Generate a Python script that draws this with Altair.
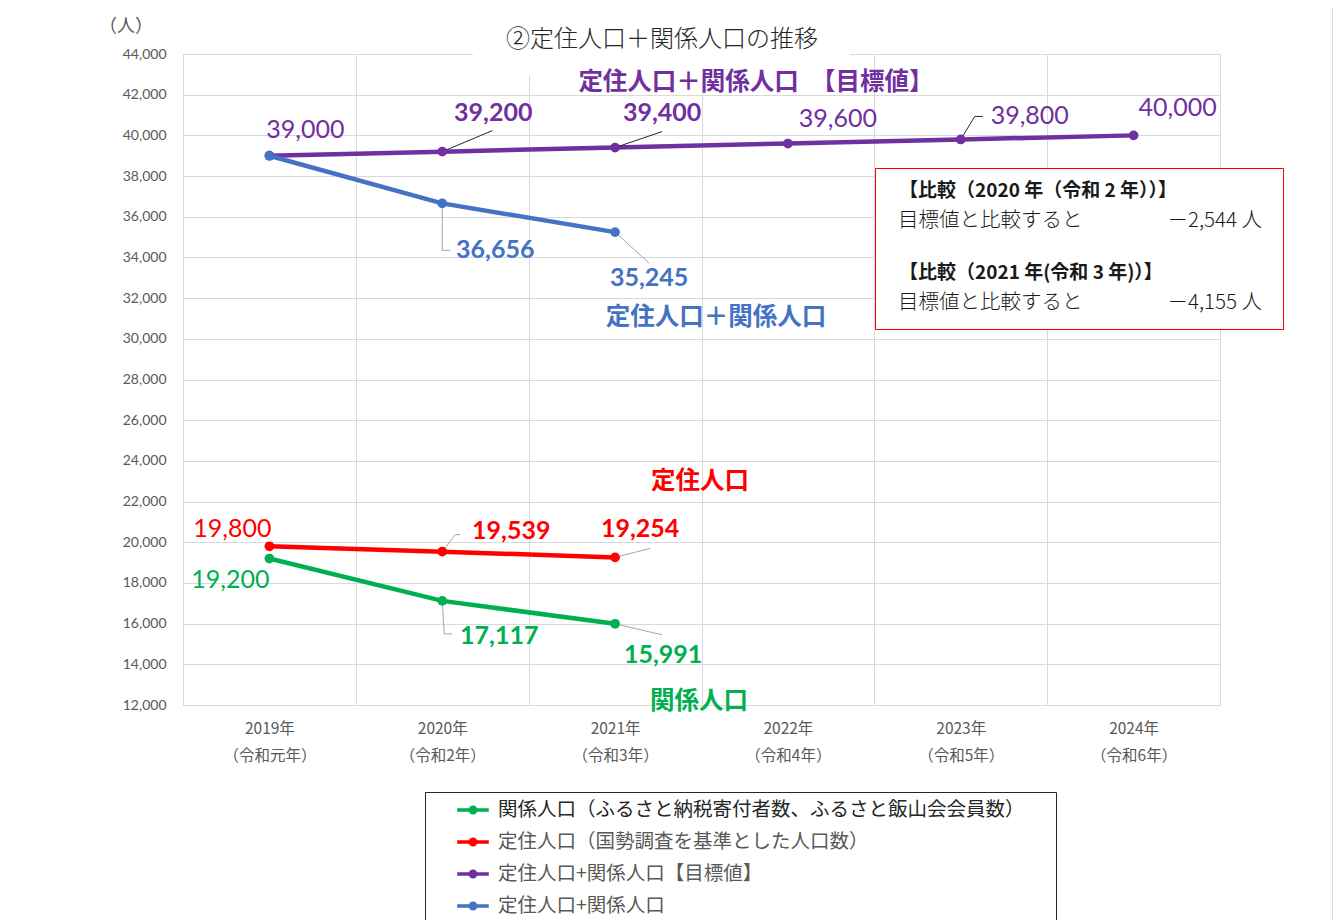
import altair as alt
import pandas as pd

# ---------------- data ----------------
years = ["2019年", "2020年", "2021年", "2022年", "2023年", "2024年"]
eras = ["（令和元年）", "（令和2年）", "（令和3年）", "（令和4年）", "（令和5年）", "（令和6年）"]

kankei = [19200, 17117, 15991]          # 関係人口
teiju = [19800, 19539, 19254]           # 定住人口
target = [39000, 39200, 39400, 39600, 39800, 40000]  # 目標値
total = [39000, 36656, 35245]           # 定住人口+関係人口

series_names = {
    "kankei": "関係人口（ふるさと納税寄付者数、ふるさと飯山会会員数）",
    "teiju": "定住人口（国勢調査を基準とした人口数）",
    "target": "定住人口+関係人口【目標値】",
    "total": "定住人口+関係人口",
}
series_values = {"kankei": kankei, "teiju": teiju, "target": target, "total": total}
series_colors = {"kankei": "#00B050", "teiju": "#FF0000", "target": "#7030A0", "total": "#4472C4"}
order = ["kankei", "teiju", "target", "total"]

cats = [f"{y}|{e}" for y, e in zip(years, eras)]
rows = []
for k in order:
    for i, v in enumerate(series_values[k]):
        rows.append({"key": k, "name": series_names[k], "cat": cats[i], "idx": i,
                     "value": v, "text": f"{v:,}"})
df = pd.DataFrame(rows)

# ---------------- styles ----------------
GRID = "#D9D9D9"
AX = "#595959"
JP = "Noto Sans CJK JP"
NUM = "Lato"

# label offsets (pixels from point): key, index, dx, dy, bold
LABELS = [
    ("target", 0, 36, -26, False), ("target", 1, 51, -39, True), ("target", 2, 47, -35, True),
    ("target", 3, 50, -25, False), ("target", 4, 69, -23, False), ("target", 5, 44, -27, False),
    ("total", 1, 53, 47, True), ("total", 2, 34, 46, True),
    ("teiju", 0, -37, -17, False), ("teiju", 1, 69, -21, True), ("teiju", 2, 25, -28, True),
    ("kankei", 0, -39, 21, False), ("kankei", 1, 57, 35, True), ("kankei", 2, 48, 31, True),
]
LEADERS = [
    ("target", 1, [(0, 0, 50, -21)], "#262626"),
    ("target", 2, [(0, 0, 47, -16)], "#262626"),
    ("target", 4, [(0, 0, 14, -23), (14, -23, 22, -23)], "#262626"),
    ("total", 1, [(0, 0, 0, 47), (0, 47, 8, 47)], "#A6A6A6"),
    ("total", 2, [(0, 0, 34, 31)], "#A6A6A6"),
    ("teiju", 1, [(0, 0, 13, -17), (13, -17, 18, -17)], "#A6A6A6"),
    ("teiju", 2, [(0, 0, 35, -9)], "#A6A6A6"),
    ("kankei", 1, [(0, 0, 2, 33), (2, 33, 10, 33)], "#A6A6A6"),
    ("kankei", 2, [(0, 0, 47, 11)], "#A6A6A6"),
]

x_enc = alt.X(
    "cat:N", sort=cats,
    scale=alt.Scale(type="band", paddingInner=0, paddingOuter=0),
    axis=alt.Axis(title=None, labelExpr="split(datum.label, '|')", tickBand="extent",
                  grid=True, gridColor=GRID, domain=False, ticks=False, labelAngle=0,
                  labelColor=AX, labelFont=JP, labelFontSize=15.5, labelLineHeight=27,
                  labelPadding=16),
)
y_enc = alt.Y(
    "value:Q",
    scale=alt.Scale(domain=[12000, 44000], nice=False, zero=False),
    axis=alt.Axis(title=None, values=list(range(12000, 44001, 2000)), format=",.0f",
                  grid=True, gridColor=GRID, domain=False, ticks=False,
                  labelColor=AX, labelFont=NUM, labelFontSize=14, labelPadding=17),
)

sym_path = ("M-1,0L1,0"
            "M-0.17,0A0.17,0.17,0,1,0,0.17,0A0.17,0.17,0,1,0,-0.17,0"
            "M-0.07,0A0.07,0.07,0,1,0,0.07,0A0.07,0.07,0,1,0,-0.07,0")
LEG = alt.Legend(title=None, orient="none", legendX=272, legendY=738, direction="vertical",
                 symbolType=sym_path, symbolSize=1000, symbolStrokeWidth=3.5,
                 labelFont=JP, labelFontSize=19.5,
                 labelColor={"expr": "datum.index === 0 ? '#262626' : '#595959'"},
                 labelLimit=900, labelOffset=7, rowPadding=4, padding=0)
color_enc = alt.Color("name:N",
                      scale=alt.Scale(domain=[series_names[k] for k in order],
                                      range=[series_colors[k] for k in order]),
                      legend=LEG)

base = alt.Chart(df)
one = alt.Chart(pd.DataFrame({"d": [0]}))

layers = []

# decorative frame of the whole chart
layers.append(one.mark_rect(fill=None, stroke="#D9D9D9", strokeWidth=1).encode(
    x=alt.value(-175.5), x2=alt.value(1149.5), y=alt.value(-46.5), y2=alt.value(900)))

lines = base.mark_line(strokeWidth=4.5).encode(x=x_enc, y=y_enc, color=color_enc, detail="key:N")
layers.append(lines)

for key, i, segs, col in LEADERS:
    for (a, b, c, d) in segs:
        layers.append(
            base.transform_filter(f"datum.key == '{key}' && datum.idx == {i}")
            .mark_rule(color=col, strokeWidth=1, xOffset=a, yOffset=b, x2Offset=c, y2Offset=d)
            .encode(x=x_enc, y=y_enc, x2="cat:N", y2="value:Q"))

points = base.mark_circle(size=95, opacity=1).encode(x=x_enc, y=y_enc, color=color_enc)
layers.append(points)

for key, i, dx, dy, bold in LABELS:
    layers.append(
        base.transform_filter(f"datum.key == '{key}' && datum.idx == {i}")
        .mark_text(dx=dx, dy=dy, font=NUM, fontSize=25, fontWeight="bold" if bold else "normal",
                   color=series_colors[key], align="center", baseline="middle")
        .encode(x=x_enc, y=y_enc, text="text:N"))

# title with white background box
layers.append(one.mark_rect(fill="white").encode(
    x=alt.value(290), x2=alt.value(667), y=alt.value(-34), y2=alt.value(22)))
layers.append(one.mark_text(text="②定住人口＋関係人口の推移", font=JP, fontSize=24, fontWeight=300,
                            color="#262626", align="center", baseline="middle").encode(
    x=alt.value(479), y=alt.value(-14)))

# unit label
layers.append(one.mark_text(text="（人）", font=JP, fontSize=18, color=AX,
                            align="center", baseline="middle").encode(
    x=alt.value(-57), y=alt.value(-27)))

# series captions
captions = [
    ("定住人口＋関係人口　【目標値】", "target", 573, 29),
    ("定住人口＋関係人口", "total", 533, 264),
    ("定住人口", "teiju", 517, 428),
    ("関係人口", "kankei", 516, 648),
]
for txt, key, px, py in captions:
    layers.append(one.mark_text(text=txt, font=JP, fontSize=24.5, fontWeight="bold",
                                color=series_colors[key], align="center", baseline="middle")
                  .encode(x=alt.value(px), y=alt.value(py)))

# comparison box
layers.append(one.mark_rect(fill="white", stroke="#FF0000", strokeWidth=1).encode(
    x=alt.value(692.5), x2=alt.value(1100.5), y=alt.value(114.5), y2=alt.value(275.5)))
box_texts = [
    ("【比較（2020 年（令和 2 年））】", 716, 137, "left", "bold", 19),
    ("目標値と比較すると", 715, 167, "left", 300, 20.5),
    ("－2,544 人", 1079, 167, "right", 300, 20.5),
    ("【比較（2021 年(令和 3 年)）】", 716, 219, "left", "bold", 19),
    ("目標値と比較すると", 715, 249, "left", 300, 20.5),
    ("－4,155 人", 1079, 249, "right", 300, 20.5),
]
for txt, px, py, al, fw, fs in box_texts:
    layers.append(one.mark_text(text=txt, font=JP, fontSize=fs, fontWeight=fw, color="#1A1A1A",
                                align=al, baseline="middle")
                  .encode(x=alt.value(px), y=alt.value(py)))

# legend frame
layers.append(one.mark_rect(fill=None, stroke="#262626", strokeWidth=1).encode(
    x=alt.value(242.5), x2=alt.value(873.5), y=alt.value(738.5), y2=alt.value(900)))

chart = alt.layer(*layers).properties(
    width=1037, height=651,
    padding={"left": 175, "top": 46, "right": 113, "bottom": 215},
    autosize=alt.AutoSizeParams(type="none"),
    background="white",
).configure_view(stroke=None)

chart.save("out.html", embed_options={"renderer": "svg", "actions": False})
